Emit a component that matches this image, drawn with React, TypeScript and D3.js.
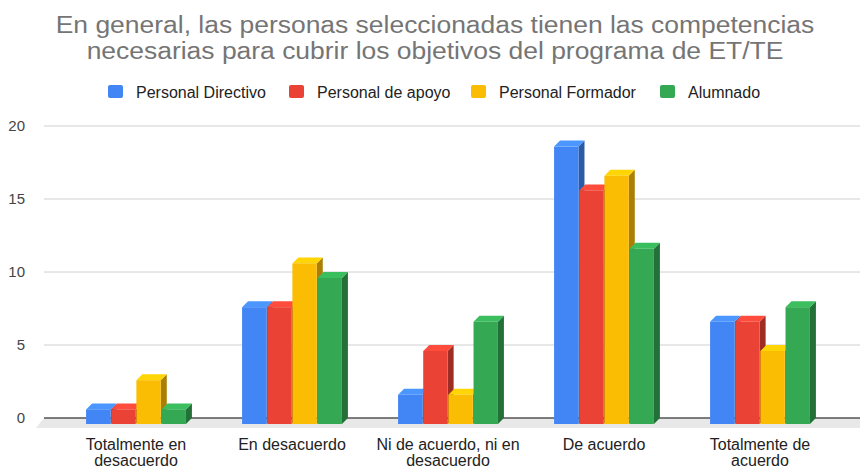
import React from 'react';
import * as d3 from 'd3';

// Survey answers per group, Google Sheets style 3D column chart
const categories = [
  ['Totalmente en', 'desacuerdo'],
  ['En desacuerdo'],
  ['Ni de acuerdo, ni en', 'desacuerdo'],
  ['De acuerdo'],
  ['Totalmente de', 'acuerdo'],
];
const seriesNames = ['Personal Directivo', 'Personal de apoyo', 'Personal Formador', 'Alumnado'];
const seriesColors = ['#4285F4', '#EA4335', '#FBBC04', '#34A853'];

const directivo = [1, 8, 2, 19, 7];
const apoyo = [1, 8, 5, 16, 7];
const formador = [3, 11, 2, 17, 5];
const alumnado = [1, 10, 7, 12, 8];
const yTicks = [0, 5, 10, 15, 20];

const W = 860;
const H = 466;
const DX = 6;
const DY = 6;
const FONT = '"Liberation Sans", Arial, sans-serif';

export default function App() {
  const series = [directivo, apoyo, formador, alumnado];
  const catKeys = categories.map((c) => c.join(' '));

  // back plane scale
  const y = d3.scaleLinear().domain([0, 20]).range([418, 126]);
  // front faces
  const x0 = d3.scaleBand().domain(catKeys).range([58, 838]).padding(0);
  const x1 = d3
    .scaleBand()
    .domain(seriesNames)
    .range([x0.step() * 0.18, x0.step() * 0.82])
    .paddingInner(0.03);

  const legendX = [108, 289, 471, 660];

  const bars: JSX.Element[] = [];
  catKeys.forEach((cat, ci) => {
    series.forEach((vals, si) => {
      const v = vals[ci];
      const c = seriesColors[si];
      const side = d3.color(c)!.darker(1.1).formatHex();
      const top = d3.color(c)!.brighter(0.35).formatHex();
      const xl = x0(cat)! + x1(seriesNames[si])!;
      const w = x1.bandwidth();
      const yt = y(v) + DY;
      const yb = y(0) + DY;
      bars.push(
        <g key={`${ci}-${si}`}>
          <polygon
            points={`${xl + w},${yt} ${xl + w + DX},${yt - DY} ${xl + w + DX},${yb - DY} ${xl + w},${yb}`}
            fill={side}
          />
          <polygon
            points={`${xl},${yt} ${xl + DX},${yt - DY} ${xl + w + DX},${yt - DY} ${xl + w},${yt}`}
            fill={top}
          />
          <rect x={xl} y={yt} width={w} height={yb - yt} fill={c} />
        </g>
      );
    });
  });

  const titleLines = [
    'En general, las personas seleccionadas tienen las competencias',
    'necesarias para cubrir los objetivos del programa de ET/TE',
  ];

  return (
    <svg width={W} height={H} style={{ position: 'absolute', left: 0, top: 0, background: '#fff' }}>
      {titleLines.map((t, i) => (
        <text
          key={i}
          transform={`translate(435,${33 + i * 26}) scale(1.08,1)`}
          textAnchor="middle"
          fontFamily={FONT}
          fontSize={24.5}
          fill="#757575"
        >
          {t}
        </text>
      ))}

      {seriesNames.map((s, i) => (
        <g key={s}>
          <rect x={legendX[i]} y={85} width={15} height={13} rx={2} fill={seriesColors[i]} />
          <text x={legendX[i] + 28} y={97.5} fontFamily={FONT} fontSize={16} fill="#222">
            {s}
          </text>
        </g>
      ))}

      {yTicks.map((t) => (
        <g key={t}>
          {t > 0 && <line x1={44} x2={W} y1={y(t)} y2={y(t)} stroke="#d0d0d0" strokeWidth={1} />}
          <text x={25} y={y(t) + 5} textAnchor="end" fontFamily={FONT} fontSize={15} fill="#444">
            {t}
          </text>
        </g>
      ))}

      <polygon
        points={`44,${y(0)} ${W},${y(0)} ${W},${y(0) + 10} 36,${y(0) + 10}`}
        fill="#e8e8e8"
      />
      <line x1={44} x2={W} y1={y(0)} y2={y(0)} stroke="#555" strokeWidth={1.5} />

      {bars}

      {categories.map((lines, ci) => (
        <text
          key={ci}
          x={x0(catKeys[ci])! + x0.bandwidth() / 2}
          y={450}
          textAnchor="middle"
          fontFamily={FONT}
          fontSize={16}
          fill="#222"
        >
          {lines.map((l, li) => (
            <tspan key={li} x={x0(catKeys[ci])! + x0.bandwidth() / 2} dy={li === 0 ? 0 : 16}>
              {l}
            </tspan>
          ))}
        </text>
      ))}
    </svg>
  );
}
